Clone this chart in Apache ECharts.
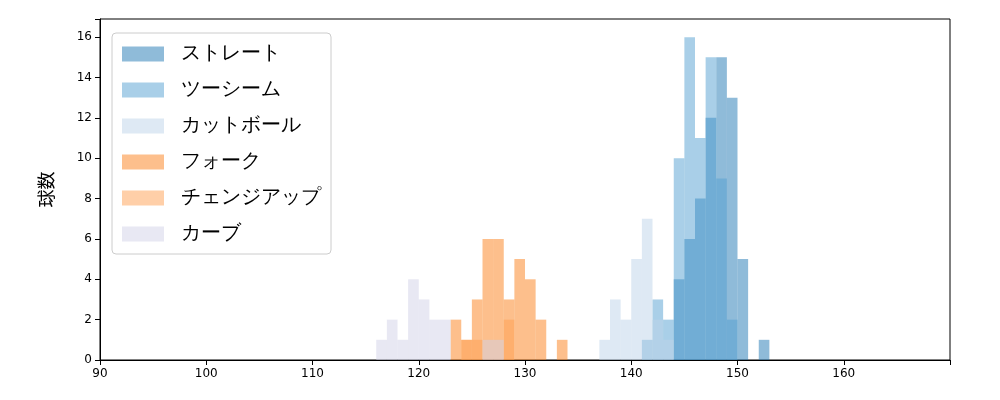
<!DOCTYPE html>
<html>
<head>
<meta charset="utf-8">
<script src="https://cdn.jsdelivr.net/npm/echarts@6/dist/echarts.min.js"></script>
<style>html,body{margin:0;padding:0;background:#fff}#c{width:1000px;height:400px}</style>
</head>
<body>
<div id="c"></div>
<script>
// histogram bins: [left edge, right edge, count]
const names = ["ストレート", "ツーシーム", "カットボール", "フォーク", "チェンジアップ", "カーブ"];
const colors = ["#1f77b4", "#539fd1", "#bdd3e9", "#fb7f19", "#ff9f51", "#d1d1e7"];
const straight = [[144,145,4],[145,146,6],[146,147,8],[147,148,12],[148,149,15],[149,150,13],[150,151,5],[152,153,1]];
const twoSeam = [[141,142,1],[142,143,3],[143,144,2],[144,145,10],[145,146,16],[146,147,11],[147,148,15],[148,149,9],[149,150,2]];
const cutBall = [[137,138,1],[138,139,3],[139,140,2],[140,141,5],[141,142,7],[142,143,2],[143,144,1]];
const fork = [[123,124,2],[124,125,1],[125,126,3],[126,127,6],[127,128,6],[128,129,3],[129,130,5],[130,131,4],[131,132,2],[133,134,1]];
const changeUp = [[124,125,1],[125,126,1],[128,129,2]];
const curve = [[116,117,1],[117,118,2],[118,119,1],[119,120,4],[120,121,3],[121,122,2],[122,123,2],[126,127,1],[127,128,1]];
const allData = [straight, twoSeam, cutBall, fork, changeUp, curve];

const chart = echarts.init(document.getElementById("c"));
const font = "DejaVu Sans";

const renderBin = (params, api) => {
  const p0 = api.coord([api.value(0), api.value(2)]);
  const p1 = api.coord([api.value(1), 0]);
  return {
    type: "rect",
    shape: { x: p0[0], y: p0[1], width: p1[0] - p0[0], height: p1[1] - p0[1] },
    style: { fill: api.visual("color"), opacity: 0.5 }
  };
};

chart.setOption({
  animation: false,
  grid: { left: 100, right: 50, top: 19, bottom: 40 },
  legend: {
    orient: "vertical", left: 112, top: 33,
    itemWidth: 42, itemHeight: 15, itemGap: 16,
    padding: [11, 10, 10, 10],
    borderColor: "#ccc", borderWidth: 1, borderRadius: 4,
    icon: "rect",
    textStyle: { fontFamily: font, fontSize: 20, color: "#000", padding: [0, 0, 0, 12] },
    data: names.map((n, i) => ({ name: n, itemStyle: { color: colors[i], opacity: 0.5 } }))
  },
  xAxis: {
    type: "value", min: 90, max: 170, interval: 10,
    axisLine: { lineStyle: { color: "#000" } },
    axisTick: { show: true, length: 5, lineStyle: { color: "#000" } },
    splitLine: { show: false },
    axisLabel: { fontFamily: font, fontSize: 12, color: "#000", formatter: v => v === 170 ? "" : v }
  },
  yAxis: {
    type: "value", min: 0, max: 16.9, interval: 2,
    name: "球数", nameLocation: "middle", nameGap: 45,
    nameTextStyle: { fontFamily: "Noto Sans CJK JP", fontSize: 18, color: "#000" },
    axisLine: { show: true, lineStyle: { color: "#000" } },
    axisTick: { show: true, length: 5, lineStyle: { color: "#000" } },
    splitLine: { show: false },
    axisLabel: { fontFamily: font, fontSize: 12, color: "#000", formatter: v => v > 16 ? "" : v }
  },
  series: allData.map((d, i) => ({
    name: names[i], type: "custom", renderItem: renderBin,
    itemStyle: { color: colors[i] },
    encode: { x: [0, 1], y: 2 },
    data: d
  }))
});
// top/right frame
chart.setOption({
  graphic: [{ type: "rect", shape: { x: 100, y: 19, width: 850, height: 341 }, style: { fill: "none", stroke: "#000", lineWidth: 1 }, silent: true }]
});
</script>
</body>
</html>
